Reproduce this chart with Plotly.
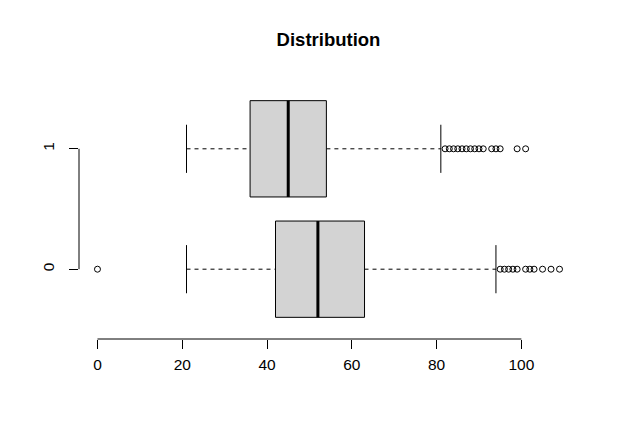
import plotly.graph_objects as go

groups = ["0", "1"]
positions = [1, 2]
lower_whisker = [21, 21]
q1 = [42, 36]
median = [52, 45]
q3 = [63, 54]
upper_whisker = [94, 81]
outliers = [
    [0, 95, 96, 97, 98, 99, 101, 102, 103, 105, 107, 109],
    [82, 83, 84, 85, 86, 87, 88, 89, 90, 91, 93, 94, 95, 99, 101],
]
x_ticks = [0, 20, 40, 60, 80, 100]
title = "Distribution"

HALF = 0.4
STAPLE = 0.2
fig = go.Figure()
for i, p in enumerate(positions):
    # whiskers (dashed)
    fig.add_trace(go.Scatter(x=[lower_whisker[i], q1[i], None, q3[i], upper_whisker[i]],
                             y=[p, p, None, p, p], mode="lines",
                             line=dict(color="black", width=1, dash="4px,4px"),
                             hoverinfo="skip"))
    # staples
    fig.add_trace(go.Scatter(x=[lower_whisker[i], lower_whisker[i], None, upper_whisker[i], upper_whisker[i]],
                             y=[p - STAPLE, p + STAPLE, None, p - STAPLE, p + STAPLE], mode="lines",
                             line=dict(color="black", width=1), hoverinfo="skip"))
    # box
    fig.add_trace(go.Scatter(x=[q1[i], q3[i], q3[i], q1[i], q1[i]],
                             y=[p - HALF, p - HALF, p + HALF, p + HALF, p - HALF],
                             mode="lines", fill="toself", fillcolor="#D3D3D3",
                             line=dict(color="black", width=1), hoverinfo="skip"))
    # median
    fig.add_trace(go.Scatter(x=[median[i], median[i]], y=[p - HALF, p + HALF], mode="lines",
                             line=dict(color="black", width=3), hoverinfo="skip"))
    # outliers
    fig.add_trace(go.Scatter(x=outliers[i], y=[p] * len(outliers[i]), mode="markers",
                             marker=dict(symbol="circle-open", size=6, color="black",
                                         line=dict(width=1, color="black"))))

xmin, xmax = -4.36, 113.36
ymin, ymax = 0.42, 2.58
W, H = 611, 429
L, R, T, B = 71, 41, 71, 98
fig.update_layout(
    width=W, height=H,
    margin=dict(l=L, r=R, t=T, b=B),
    plot_bgcolor="white", paper_bgcolor="white",
    showlegend=False,
    font=dict(family="Liberation Sans, Arial, sans-serif", size=15.5, color="black"),
    title=dict(text="<b>" + title + "</b>", x=(L + (W - R)) / 2 / W, xanchor="center",
               y=1 - 32 / H, yanchor="middle", font=dict(size=18.5)),
)
fig.update_xaxes(range=[xmin, xmax], tickvals=x_ticks, ticktext=[str(v) for v in x_ticks],
                 ticks="outside", ticklen=9, tickcolor="black", tickwidth=1,
                 ticklabelstandoff=2,
                 showgrid=False, zeroline=False, showline=False, fixedrange=True)
fig.update_yaxes(range=[ymin, ymax], tickvals=positions, ticktext=groups, tickangle=-90,
                 ticks="outside", ticklen=9, tickcolor="black", tickwidth=1,
                 ticklabelstandoff=9,
                 showgrid=False, zeroline=False, showline=False, fixedrange=True)
fig.add_shape(type="line", xref="x", yref="paper", x0=x_ticks[0], x1=x_ticks[-1], y0=0, y1=0,
              line=dict(color="black", width=1))
fig.add_shape(type="line", xref="paper", yref="y", x0=0, x1=0, y0=positions[0], y1=positions[-1],
              line=dict(color="black", width=1))
fig.write_html("out.html")
